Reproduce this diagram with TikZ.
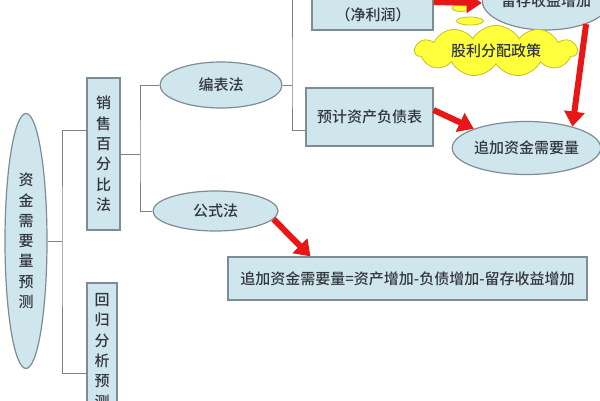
\documentclass[tikz,border=0pt]{standalone}
\usepackage{fontspec}
\setmainfont{Noto Sans CJK SC}[UprightFont={* Medium}]
\usetikzlibrary{shapes.geometric,shapes.symbols,arrows.meta}
\definecolor{fillb}{RGB}{208,230,237}
\definecolor{edgeb}{RGB}{125,140,150}
\definecolor{connc}{RGB}{130,130,130}
\definecolor{redar}{RGB}{232,22,22}
\definecolor{cloudy}{RGB}{255,255,60}
\definecolor{cloude}{RGB}{200,190,40}
\definecolor{txt}{RGB}{50,55,60}
\begin{document}
\begin{tikzpicture}[x=1pt,y=-1pt,
  bluebox/.style={draw=edgeb,fill=fillb,line width=1.2pt,rectangle,inner sep=0pt},
  blueell/.style={draw=edgeb,fill=fillb,line width=1.2pt,ellipse,inner sep=0pt},
  connline/.style={draw=connc,line width=1pt},
  redarrow/.style={draw=redar,line width=6pt,-{Triangle[length=15pt,width=20pt]}},
  lbl/.style={font=\fontsize{15}{20.3}\selectfont,text=txt,align=center},
  thought/.style={ellipse,draw=cloude,fill=cloudy,line width=0.8pt,inner sep=0pt}
]
\useasboundingbox (0,0) rectangle (600,400);
\clip (0,0) rectangle (600,400);
\fill[white] (0,0) rectangle (600,400);

% nodes
\node[blueell,minimum width=42pt,minimum height=255pt,lbl] (ze) at (26,241) {资\\金\\需\\要\\量\\预\\测};
\node[bluebox,minimum width=33pt,minimum height=152pt,lbl] (xs) at (103.5,154) {销\\售\\百\\分\\比\\法};
\node[bluebox,minimum width=30pt,minimum height=136pt,lbl] (hg) at (102,351) {回\\归\\分\\析\\预\\测};
\node[blueell,minimum width=122pt,minimum height=46pt,lbl] (bb) at (221,85) {编表法};
\node[blueell,minimum width=125pt,minimum height=40pt,lbl] (gs) at (215.5,211) {公式法};
\node[bluebox,minimum width=121pt,minimum height=60pt] (jlr) at (372.5,0) {};
\node[lbl] (jlrt) at (373,15) {（净利润）};
\node[blueell,minimum width=118pt,minimum height=58pt,lbl] (lc) at (546,1) {留存收益增加};
\node[bluebox,minimum width=127pt,minimum height=58pt,lbl] (yj) at (369.5,117) {预计资产负债表};
\node[blueell,minimum width=127pt,minimum height=53pt,lbl] (zj) at (526.5,148) {追加资金需要量};
\node[bluebox,minimum width=359pt,minimum height=43pt,lbl] (fm) at (407.5,278.5) {追加资金需要量=资产增加-负债增加-留存收益增加};

% cloud
\node[thought,minimum width=18pt,minimum height=7pt] (p1) at (461,8) {};
\node[thought,minimum width=27pt,minimum height=8pt] (p2) at (470,21) {};
\node[cloud,draw=cloude,fill=cloudy,line width=0.8pt,cloud puffs=11,cloud puff arc=120,aspect=4,minimum width=162pt,minimum height=42pt,inner sep=0pt,lbl] (gl) at (496,51) {股利分配政策};

% connectors
\coordinate (b1) at (62,241);
\coordinate (b2) at (140,154);
\coordinate (b3) at (292,85);
\draw[connline] (ze.east) -- (b1);
\draw[connline] ([yshift=24pt]xs.west) -| (b1) |- ([yshift=-22pt]hg.west);
\draw[connline] (xs.east) -- (b2);
\draw[connline] (bb.west) -| (b2) |- (gs.west);
\draw[connline] (bb.east) -- (b3);
\draw[connline] ([yshift=10pt]jlr.west) -| (b3) |- ([yshift=-13pt]yj.west);

% red arrows
\draw[redarrow] ([yshift=-2pt]jlr.east) -- ([yshift=-2pt]lc.west);
\draw[redarrow] (lc.-30) -- (zj.25);
\draw[redarrow] ([yshift=7pt]yj.east) -- (zj.160);
\draw[redarrow] (gs.-8) -- ([xshift=-97pt]fm.north);
\end{tikzpicture}
\end{document}
